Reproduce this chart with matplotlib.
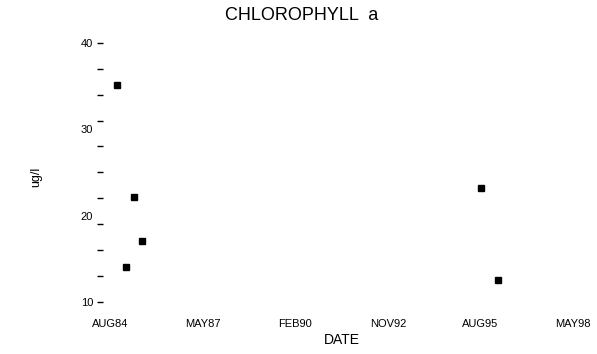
import matplotlib
matplotlib.use('Agg')
import matplotlib.pyplot as plt
import numpy as np

plt.rcParams['font.family'] = ['Liberation Sans', 'DejaVu Sans']

# sample dates and chlorophyll a values (ug/l)
sample_dates = np.array(['1984-10-16', '1985-01-22', '1985-04-18', '1985-07-14',
                         '1995-08-10', '1996-02-08'], dtype='datetime64[D]')
chl_a = [35.1, 14.0, 22.1, 17.1, 23.2, 12.5]

tick_dates = np.array(['1984-08-01', '1987-05-01', '1990-02-01', '1992-11-01',
                       '1995-08-01', '1998-05-01'], dtype='datetime64[D]')
tick_labels = ['AUG84', 'MAY87', 'FEB90', 'NOV92', 'AUG95', 'MAY98']

y_major = [10, 20, 30, 40]
y_minor = np.arange(13, 40, 3)

fig = plt.figure(figsize=(5.97, 3.54), dpi=100)
ax = fig.add_axes([0.1725, 0.147, 0.799, 0.732])

ax.plot(sample_dates, chl_a, linestyle='none', marker='s', markersize=5,
        color='black')

ax.set_xlim(np.datetime64('1984-05-17'), np.datetime64('1998-07-16'))
ax.set_ylim(10, 40)

ax.set_xticks(tick_dates)
ax.set_xticklabels(tick_labels, fontsize=8)
ax.tick_params(axis='x', length=0, pad=12)

ax.set_yticks(y_major)
ax.set_yticklabels([str(v) for v in y_major], fontsize=8)
ax.set_yticks(y_minor, minor=True)
ax.tick_params(axis='y', which='both', length=4, width=1, pad=3)
# 20 and 30 have labels but no tick mark
for t in ax.yaxis.get_major_ticks()[1:3]:
    t.tick1line.set_visible(False)

for s in ax.spines.values():
    s.set_visible(False)

ax.set_xlabel('DATE', fontsize=10, labelpad=3)
fig.text(0.06, 0.5, 'ug/l', rotation=90, fontsize=9, va='center', ha='center')
fig.text(0.505, 0.955, 'CHLOROPHYLL  a', fontsize=13, ha='center', va='center')

fig.savefig('out.png', dpi=100)
